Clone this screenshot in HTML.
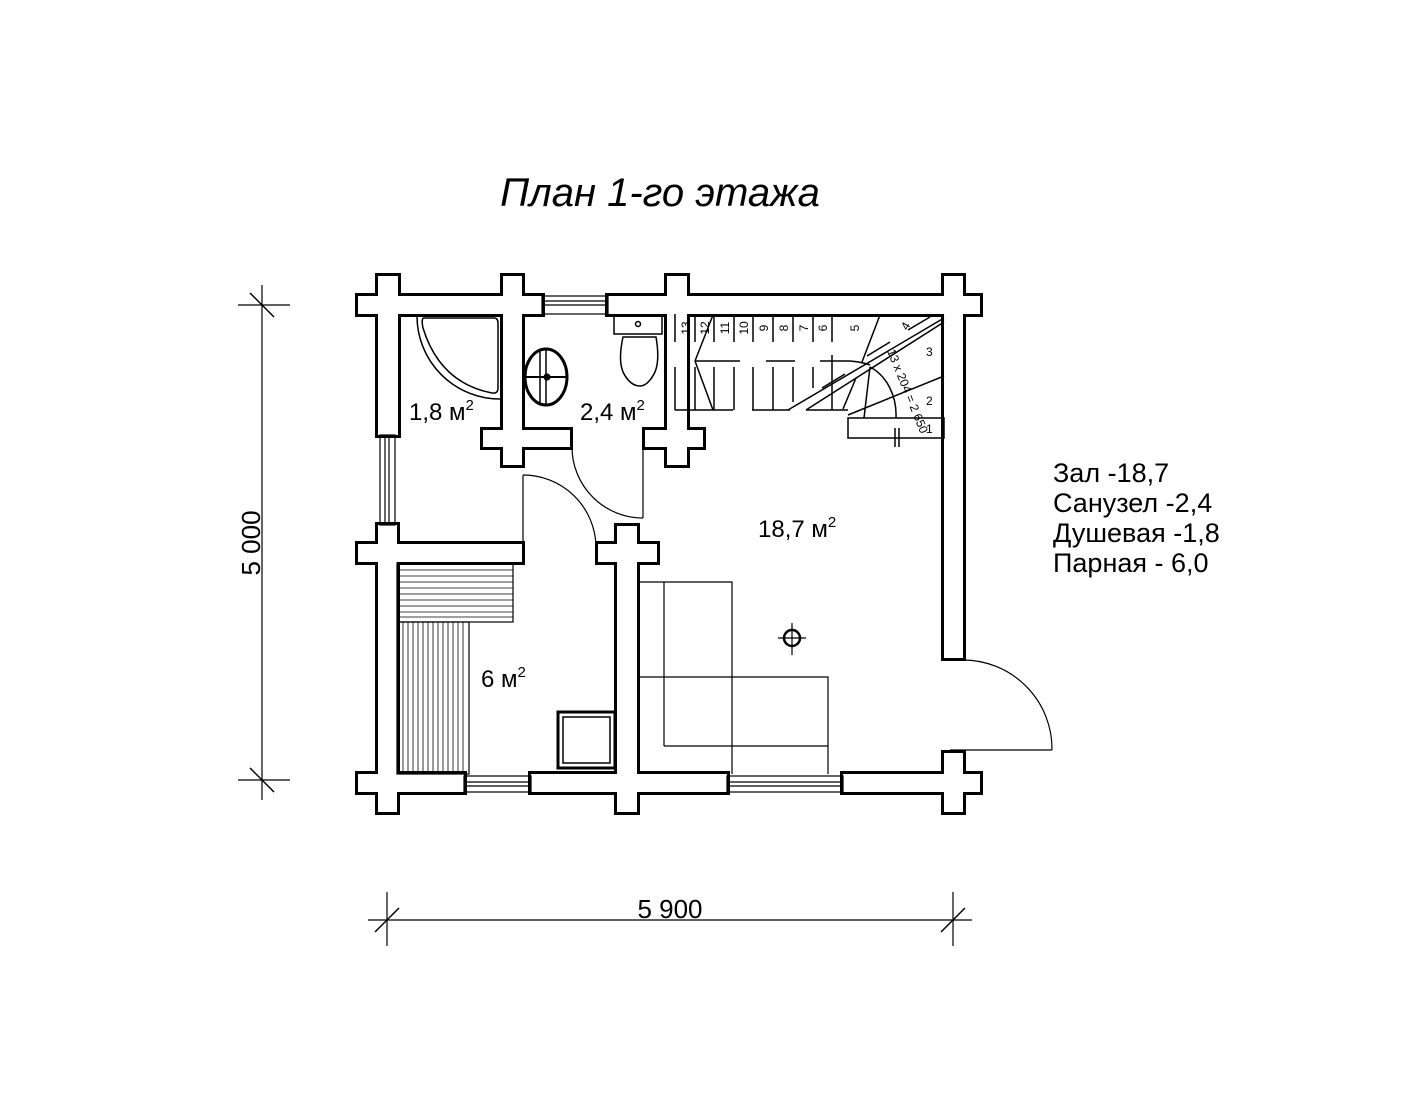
<!DOCTYPE html>
<html><head><meta charset="utf-8"><style>
html,body{margin:0;padding:0;background:#fff}
svg{display:block}
text{font-family:"Liberation Sans",sans-serif;fill:#000}
</style></head><body>
<svg width="1422" height="1100" viewBox="0 0 1422 1100" xmlns="http://www.w3.org/2000/svg">
<rect width="1422" height="1100" fill="#fff"/>
<text x="660" y="206" font-size="40" font-style="italic" text-anchor="middle">План 1-го этажа</text>

<g>
<g stroke="#000" stroke-width="6" fill="#000">
<rect x="358" y="296" width="184" height="18"/>
<rect x="608" y="296" width="372" height="18"/>
<rect x="378" y="276" width="20" height="159"/>
<rect x="503" y="276" width="19" height="189"/>
<rect x="483" y="430" width="87" height="17"/>
<rect x="667" y="276" width="20" height="189"/>
<rect x="645" y="430" width="58" height="17"/>
<rect x="944" y="276" width="19" height="382"/>
<rect x="378" y="525" width="19" height="287"/>
<rect x="358" y="544" width="164" height="18"/>
<rect x="617" y="526" width="20" height="286"/>
<rect x="598" y="544" width="59" height="18"/>
<rect x="358" y="774" width="106" height="18"/>
<rect x="531" y="774" width="196" height="18"/>
<rect x="843" y="774" width="137" height="18"/>
<rect x="944" y="753" width="19" height="59"/>
</g>
<g fill="#fff">
<rect x="358" y="296" width="184" height="18"/>
<rect x="608" y="296" width="372" height="18"/>
<rect x="378" y="276" width="20" height="159"/>
<rect x="503" y="276" width="19" height="189"/>
<rect x="483" y="430" width="87" height="17"/>
<rect x="667" y="276" width="20" height="189"/>
<rect x="645" y="430" width="58" height="17"/>
<rect x="944" y="276" width="19" height="382"/>
<rect x="378" y="525" width="19" height="287"/>
<rect x="358" y="544" width="164" height="18"/>
<rect x="617" y="526" width="20" height="286"/>
<rect x="598" y="544" width="59" height="18"/>
<rect x="358" y="774" width="106" height="18"/>
<rect x="531" y="774" width="196" height="18"/>
<rect x="843" y="774" width="137" height="18"/>
<rect x="944" y="753" width="19" height="59"/>
</g>
</g>

<g fill="none" stroke="#000" stroke-width="1.2">
<rect x="542" y="296" width="66" height="18"/><line x1="545" y1="301" x2="605" y2="301"/><line x1="545" y1="305" x2="605" y2="305"/>
<rect x="380" y="435" width="15" height="90"/><line x1="385" y1="438" x2="385" y2="522"/><line x1="389" y1="438" x2="389" y2="522"/>
<rect x="464" y="776" width="67" height="16"/><line x1="467" y1="782" x2="528" y2="782"/><line x1="467" y1="786" x2="528" y2="786"/>
<rect x="727" y="776" width="116" height="16"/><line x1="730" y1="782" x2="840" y2="782"/><line x1="730" y1="786" x2="840" y2="786"/>
<line x1="643" y1="437" x2="643" y2="518"/><path d="M572 447 A71 71 0 0 0 643 518"/>
<line x1="523" y1="475" x2="523" y2="546"/><path d="M523 475 A73 73 0 0 1 596 546"/>
<path d="M963 660 A89 89 0 0 1 1052 750"/>
<line x1="950" y1="750" x2="1052" y2="750"/>
<path d="M417 316 A83 83 0 0 0 500 399" stroke-width="1.5"/>
<path d="M424 318 H494 Q498 318 498 323 V388 Q498 394 492 393 Q440 383 423 328 Q421 318 424 318 Z" stroke-width="1.5"/>
<ellipse cx="546" cy="377" rx="21" ry="28" stroke-width="3"/>
<line x1="526" y1="377" x2="567" y2="377" stroke-width="2"/>
<line x1="540" y1="351" x2="540" y2="403" stroke-width="1.5"/>
<line x1="546" y1="350" x2="546" y2="404" stroke-width="1.5"/>
<circle cx="547" cy="377" r="3" fill="#000"/>
<rect x="614" y="316" width="48" height="18" stroke-width="1.5"/>
<circle cx="638" cy="324" r="2.5" stroke-width="1.5"/>
<path d="M623 337 H656 Q660 360 655 372 Q648 386 640 386 Q630 386 623 372 Q618 360 623 337 Z" stroke-width="1.5"/>
<rect x="397" y="563" width="116" height="59"/>
<rect x="397" y="622" width="72" height="152"/>
<rect x="558" y="712" width="57" height="56" stroke-width="3"/>
<rect x="563" y="717" width="47" height="46" stroke-width="1.5"/>
<polyline points="637,582 732,582 732,774"/>
<line x1="664" y1="582" x2="664" y2="746"/>
<polyline points="637,677 828,677 828,774"/>
<line x1="664" y1="746" x2="828" y2="746"/>
<circle cx="792" cy="638" r="8" stroke-width="2.5"/>
<line x1="778" y1="638" x2="806" y2="638"/><line x1="792" y1="623" x2="792" y2="655"/>
<g stroke-width="1.5">
<line x1="675" y1="314" x2="675" y2="342"/><line x1="675" y1="367" x2="675" y2="410"/>
<line x1="695" y1="314" x2="695" y2="342"/><line x1="695" y1="367" x2="695" y2="410"/>
<line x1="714" y1="314" x2="714" y2="342"/><line x1="714" y1="367" x2="714" y2="410"/>
<line x1="734" y1="314" x2="734" y2="342"/><line x1="734" y1="367" x2="734" y2="410"/>
<line x1="753" y1="314" x2="753" y2="342"/><line x1="753" y1="367" x2="753" y2="410"/>
<line x1="773" y1="314" x2="773" y2="342"/><line x1="773" y1="367" x2="773" y2="410"/>
<line x1="793" y1="314" x2="793" y2="342"/><line x1="793" y1="367" x2="793" y2="402"/>
<line x1="813" y1="314" x2="813" y2="342"/><line x1="813" y1="367" x2="813" y2="388"/>
<line x1="832" y1="314" x2="832" y2="342"/><line x1="832" y1="355" x2="832" y2="410"/>
<line x1="675" y1="410" x2="733" y2="410"/><line x1="752" y1="410" x2="790" y2="410"/><line x1="806" y1="410" x2="848" y2="410"/>
<line x1="695" y1="361" x2="740" y2="361"/><line x1="766" y1="361" x2="795" y2="361"/><line x1="820" y1="361" x2="850" y2="361"/>
<path d="M850 361 Q862 362 870 365"/>
<line x1="695" y1="361" x2="713" y2="315"/><line x1="695" y1="361" x2="713" y2="410"/>
<line x1="788" y1="410" x2="944" y2="318"/><line x1="806" y1="410" x2="944" y2="322"/>
<line x1="822" y1="388" x2="845" y2="374"/><line x1="867" y1="356" x2="890" y2="342"/>
<line x1="908" y1="330" x2="930" y2="317"/>
<line x1="862" y1="362" x2="880" y2="315"/>
<line x1="848" y1="415" x2="944" y2="376"/>
<line x1="843" y1="409" x2="856" y2="378"/><line x1="864" y1="418" x2="870" y2="367"/>
<path d="M870 367 A42 52 0 0 1 896 418"/>
<rect x="848" y="418" width="96" height="20"/>
<line x1="895" y1="428" x2="895" y2="447"/><line x1="899" y1="428" x2="899" y2="447"/>
</g>
<line x1="262" y1="285" x2="262" y2="800"/>
<line x1="238" y1="305" x2="290" y2="305"/><line x1="238" y1="780" x2="290" y2="780"/>
<line x1="250" y1="293" x2="274" y2="317" stroke-width="1.5"/><line x1="250" y1="768" x2="274" y2="792" stroke-width="1.5"/>
<line x1="368" y1="920" x2="972" y2="920"/>
<line x1="387" y1="892" x2="387" y2="946"/><line x1="953" y1="892" x2="953" y2="946"/>
<line x1="375" y1="932" x2="399" y2="908" stroke-width="1.5"/><line x1="941" y1="932" x2="965" y2="908" stroke-width="1.5"/>
</g>
<g stroke="#000" stroke-width="0.8">
<line x1="397" y1="570" x2="513" y2="570"/><line x1="397" y1="576" x2="513" y2="576"/><line x1="397" y1="582" x2="513" y2="582"/><line x1="397" y1="588" x2="513" y2="588"/><line x1="397" y1="594" x2="513" y2="594"/><line x1="397" y1="600" x2="513" y2="600"/><line x1="397" y1="606" x2="513" y2="606"/><line x1="397" y1="612" x2="513" y2="612"/><line x1="397" y1="617" x2="513" y2="617"/>
<line x1="403" y1="622" x2="403" y2="774"/><line x1="408" y1="622" x2="408" y2="774"/><line x1="413" y1="622" x2="413" y2="774"/><line x1="418" y1="622" x2="418" y2="774"/><line x1="423" y1="622" x2="423" y2="774"/><line x1="428" y1="622" x2="428" y2="774"/><line x1="433" y1="622" x2="433" y2="774"/><line x1="438" y1="622" x2="438" y2="774"/><line x1="443" y1="622" x2="443" y2="774"/><line x1="448" y1="622" x2="448" y2="774"/><line x1="453" y1="622" x2="453" y2="774"/><line x1="458" y1="622" x2="458" y2="774"/><line x1="463" y1="622" x2="463" y2="774"/>
</g>
<g font-size="12">
<text transform="translate(690,328) rotate(-90)" text-anchor="middle">13</text>
<text transform="translate(709,328) rotate(-90)" text-anchor="middle">12</text>
<text transform="translate(729,328) rotate(-90)" text-anchor="middle">11</text>
<text transform="translate(748,328) rotate(-90)" text-anchor="middle">10</text>
<text transform="translate(768,328) rotate(-90)" text-anchor="middle">9</text>
<text transform="translate(788,328) rotate(-90)" text-anchor="middle">8</text>
<text transform="translate(808,328) rotate(-90)" text-anchor="middle">7</text>
<text transform="translate(827,328) rotate(-90)" text-anchor="middle">6</text>
<text transform="translate(859,328) rotate(-90)" text-anchor="middle">5</text>
<text transform="translate(909,328) rotate(-60)" text-anchor="middle">4</text>
<text x="926" y="356">3</text><text x="926" y="405">2</text><text x="926" y="433">1</text>
<text transform="translate(887,351) rotate(68)" font-size="12">13 x 204 = 2 650</text>
</g>
<g font-size="24">
<text x="409" y="420">1,8 м<tspan font-size="15" dy="-10">2</tspan></text>
<text x="580" y="420">2,4 м<tspan font-size="15" dy="-10">2</tspan></text>
<text x="758" y="537">18,7 м<tspan font-size="15" dy="-10">2</tspan></text>
<text x="481" y="687">6 м<tspan font-size="15" dy="-10">2</tspan></text>
<text x="670" y="918" text-anchor="middle" font-size="26">5 900</text>
<text transform="translate(260,543) rotate(-90)" text-anchor="middle" font-size="26">5 000</text>
</g>
<g font-size="27">
<text x="1053" y="482">Зал -18,7</text>
<text x="1053" y="512">Санузел -2,4</text>
<text x="1053" y="542">Душевая -1,8</text>
<text x="1053" y="572">Парная - 6,0</text>
</g>
</svg>
</body></html>
